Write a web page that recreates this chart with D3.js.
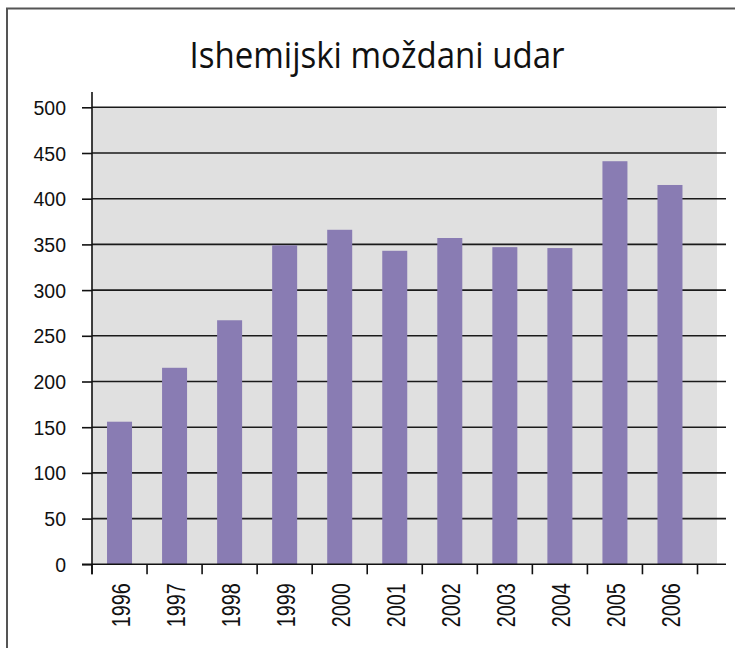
<!DOCTYPE html>
<html>
<head>
<meta charset="utf-8">
<script src="https://cdn.jsdelivr.net/npm/d3@7"></script>
<style>
  html, body { margin: 0; padding: 0; background: #fff; }
  svg { display: block; }
</style>
</head>
<body>
<svg id="chart" width="735" height="648"></svg>
<script>
const title = "Ishemijski moždani udar";
const years = ["1996","1997","1998","1999","2000","2001","2002","2003","2004","2005","2006"];
const values = [156, 215, 267, 349, 366, 343, 357, 347, 346, 441, 415];
const yTicks = [0, 50, 100, 150, 200, 250, 300, 350, 400, 450, 500];

const svg = d3.select("#chart");

// frame (top and left edges)
svg.append("path")
  .attr("d", "M7,648 L7,8.5 L735,8.5")
  .attr("fill", "none").attr("stroke", "#555").attr("stroke-width", 2);

// title
svg.append("text")
  .attr("x", 377).attr("y", 68)
  .attr("text-anchor", "middle")
  .attr("font-family", "'Open Sans', 'Noto Sans', sans-serif")
  .attr("font-size", 37)
  .attr("fill", "#111")
  .attr("textLength", 375)
  .attr("lengthAdjust", "spacingAndGlyphs")
  .text(title);

const left = 92, plotRight = 717, gridRight = 726;
const y = d3.scaleLinear().domain([0, 500]).range([564.3, 107.3]);
const x = d3.scaleBand().domain(years).range([left, 697.5]).padding(0);
const barW = 25;

// plot background
svg.append("rect")
  .attr("x", left).attr("y", y(500))
  .attr("width", plotRight - left).attr("height", y(0) - y(500))
  .attr("fill", "#e0e0e0");

// gridlines
svg.append("g").selectAll("line")
  .data(yTicks.filter(d => d > 0))
  .join("line")
  .attr("x1", left).attr("x2", gridRight)
  .attr("y1", d => y(d)).attr("y2", d => y(d))
  .attr("stroke", "#1a1a1a").attr("stroke-width", 1.6);

// bars
svg.append("g").selectAll("rect")
  .data(values)
  .join("rect")
  .attr("x", (d, i) => x(years[i]) + (x.bandwidth() - barW) / 2)
  .attr("y", d => y(d))
  .attr("width", barW)
  .attr("height", d => y(0) - y(d))
  .attr("fill", "#897cb3");

// y axis
const yAxis = svg.append("g")
  .attr("transform", `translate(${left},0)`)
  .call(d3.axisLeft(y).tickValues(yTicks).tickSize(10).tickPadding(0).tickSizeOuter(0));
yAxis.attr("font-size", null).attr("font-family", null);
yAxis.select(".domain").remove();
yAxis.append("line")
  .attr("x1", 0).attr("x2", 0).attr("y1", 92).attr("y2", y(0) + 10)
  .attr("stroke", "#111").attr("stroke-width", 1.6);
yAxis.selectAll(".tick line").attr("stroke", "#111").attr("stroke-width", 1.6);
yAxis.selectAll(".tick text")
  .attr("x", -26)
  .attr("dy", "0.36em")
  .style("font-family", "'Liberation Sans', Arial, sans-serif")
  .style("font-size", "19.5px")
  .attr("fill", "#111");

// x axis
const xAxisG = svg.append("g").attr("transform", `translate(0,${y(0)})`);
xAxisG.append("line")
  .attr("x1", left - 10).attr("x2", gridRight)
  .attr("y1", 0).attr("y2", 0)
  .attr("stroke", "#111").attr("stroke-width", 1.6);
const boundaries = years.map(d => x(d)).concat([x(years[years.length - 1]) + x.step()]);
xAxisG.selectAll("line.tk")
  .data(boundaries)
  .join("line").attr("class", "tk")
  .attr("x1", d => d).attr("x2", d => d)
  .attr("y1", 0).attr("y2", 10)
  .attr("stroke", "#111").attr("stroke-width", 1.6);
xAxisG.selectAll("text")
  .data(years)
  .join("text")
  .attr("transform", d => `translate(${x(d) + x.bandwidth() / 2 + 1},19) rotate(-90)`)
  .attr("text-anchor", "end")
  .attr("dy", "0.36em")
  .style("font-family", "'Liberation Sans', Arial, sans-serif")
  .style("font-size", "26px")
  .attr("fill", "#111")
  .attr("textLength", 44)
  .attr("lengthAdjust", "spacingAndGlyphs")
  .text(d => d);
</script>
</body>
</html>
